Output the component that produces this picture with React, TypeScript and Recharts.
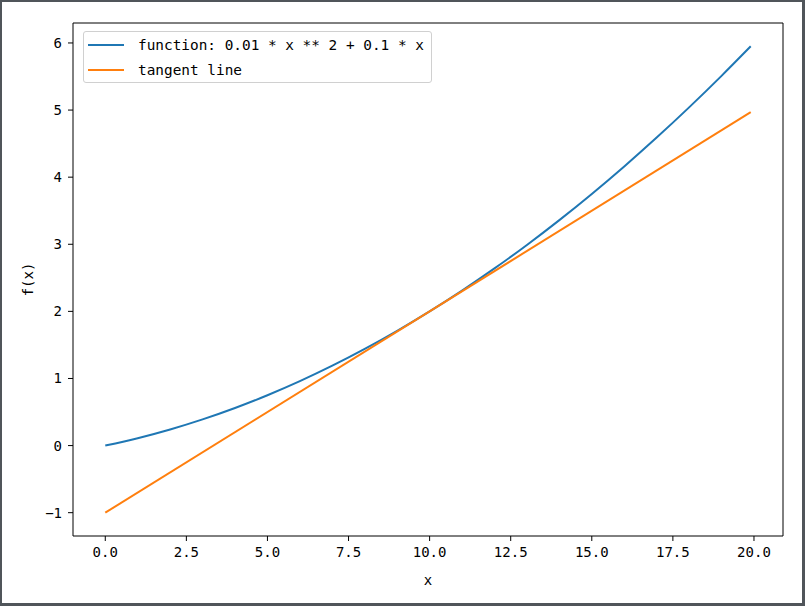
import React from "react";
import {
  LineChart,
  Line,
  XAxis,
  YAxis,
  ReferenceArea
} from "recharts";

// values
const xs = [0, 1, 2, 3, 4, 5, 6, 7, 8, 9, 10, 11, 12, 13, 14, 15, 16, 17, 18, 19, 19.9];
const curveValues = [0, 0.11, 0.24, 0.39, 0.56, 0.75, 0.96, 1.19, 1.44, 1.71, 2.0, 2.31, 2.64, 2.99, 3.36, 3.75, 4.16, 4.59, 5.04, 5.51, 5.95];
const tangentXs = [0, 19.9];
const tangentValues = [-1, 4.97];
const xTicks = [0, 2.5, 5, 7.5, 10, 12.5, 15, 17.5, 20];
const yTicks = [-1, 0, 1, 2, 3, 4, 5, 6];
const seriesNames = ["function: 0.01 * x ** 2 + 0.1 * x", "tangent line"];
const seriesColors = ["#1f77b4", "#ff7f0e"];

const xDomain: [number, number] = [-0.995, 20.895];
const yDomain: [number, number] = [-1.3475, 6.2975];

const curveData = xs.map((x, i) => ({ x, y: curveValues[i] }));
const tangentData = tangentXs.map((x, i) => ({ x, y: tangentValues[i] }));

const tickFont = { fontFamily: "'DejaVu Sans Mono', monospace", fontSize: 14, fill: "#000" };

// matplotlib-style legend box, placed over the plot's top-left corner
function LegendBox() {
  return (
    <div
      style={{
        position: "absolute",
        left: 83,
        top: 31,
        width: 347,
        height: 50,
        border: "1px solid #d0d0d0",
        borderRadius: 3,
        background: "rgba(255,255,255,0.8)",
        fontFamily: "'DejaVu Sans Mono', monospace",
        fontSize: 14.4,
        color: "#000"
      }}
    >
      {seriesNames.map((name, i) => (
        <div
          key={name}
          style={{ position: "absolute", left: 4, top: 4 + i * 25, height: 18, display: "flex", alignItems: "center" }}
        >
          <div style={{ width: 36, height: 2, background: seriesColors[i] }} />
          <span style={{ marginLeft: 14, whiteSpace: "pre" }}>{name}</span>
        </div>
      ))}
    </div>
  );
}

export default function App() {
  return (
    <div style={{ position: "absolute", left: 0, top: 0, width: 805, height: 606, background: "#fff" }}>
      <LineChart width={805} height={606} margin={{ top: 23, right: 22, left: 0, bottom: 0 }}>
        <XAxis
          type="number"
          dataKey="x"
          domain={xDomain}
          allowDataOverflow
          ticks={xTicks}
          tickFormatter={(v: number) => v.toFixed(1)}
          height={70}
          axisLine={false}
          tickLine={{ stroke: "#000" }}
          tickSize={5}
          tickMargin={6}
          tick={tickFont}
          label={{ value: "x", position: "insideBottom", offset: 21, style: { ...tickFont } }}
        />
        <YAxis
          type="number"
          dataKey="y"
          domain={yDomain}
          allowDataOverflow
          ticks={yTicks}
          tickFormatter={(v: number) => (v < 0 ? "\u2212" + Math.abs(v) : String(v))}
          width={73}
          axisLine={false}
          tickLine={{ stroke: "#000" }}
          tickSize={5}
          tickMargin={6}
          tick={tickFont}
          label={{
            value: "f(x)",
            angle: -90,
            position: "insideLeft",
            offset: 28,
            style: { ...tickFont, textAnchor: "middle" }
          }}
        />
        <ReferenceArea
          x1={xDomain[0]}
          x2={xDomain[1]}
          y1={yDomain[0]}
          y2={yDomain[1]}
          fill="none"
          stroke="#000"
          strokeWidth={1}
          ifOverflow="visible"
        />
        <Line
          data={curveData}
          dataKey="y"
          type="monotone"
          stroke={seriesColors[0]}
          strokeWidth={2}
          dot={false}
          isAnimationActive={false}
          name={seriesNames[0]}
        />
        <Line
          data={tangentData}
          dataKey="y"
          type="linear"
          stroke={seriesColors[1]}
          strokeWidth={2}
          dot={false}
          isAnimationActive={false}
          name={seriesNames[1]}
        />
      </LineChart>
      <LegendBox />
      {/* window frame */}
      <div
        style={{
          position: "absolute",
          left: 0,
          top: 0,
          width: 805,
          height: 606,
          boxSizing: "border-box",
          borderStyle: "solid",
          borderColor: "#50555a",
          borderWidth: "2px 3px 3px 2px",
          pointerEvents: "none"
        }}
      />
    </div>
  );
}
